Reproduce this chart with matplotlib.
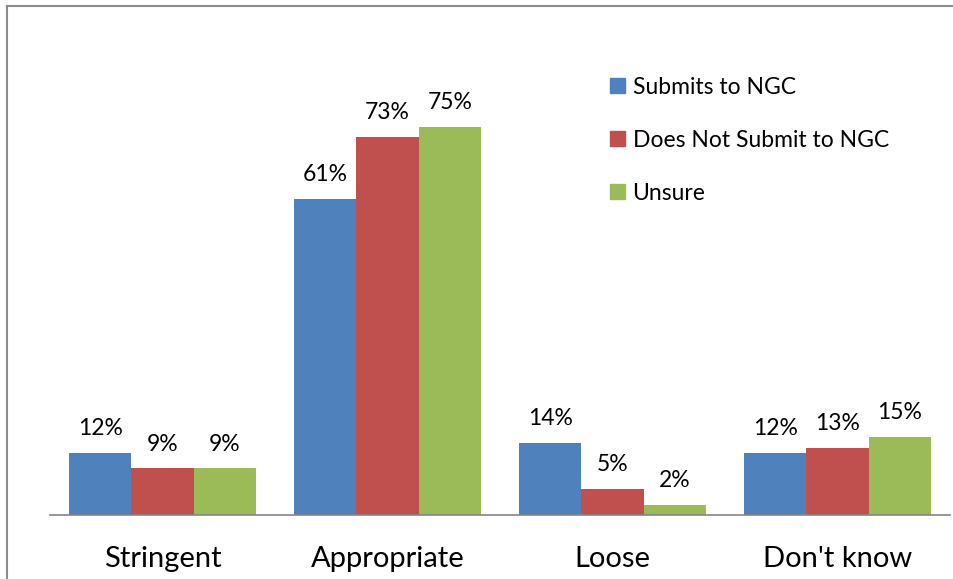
import numpy as np
import matplotlib.pyplot as plt
from matplotlib.lines import Line2D
from matplotlib.patches import Patch

categories = ["Stringent", "Appropriate", "Loose", "Don't know"]
series_names = ["Submits to NGC", "Does Not Submit to NGC", "Unsure"]
submits = [12, 61, 14, 12]
not_submit = [9, 73, 5, 13]
unsure = [9, 75, 2, 15]

colors = ["#4f81bd", "#c0504d", "#9bbb59"]

plt.rcParams['font.family'] = ['Lato', 'DejaVu Sans']

W, H = 954, 579
fig = plt.figure(figsize=(W / 100, H / 100), dpi=100)
ax = fig.add_axes([50 / W, 1 - 515 / H, 900 / W, (515 - 101) / H])

x = np.arange(len(categories))
bw = 62.3 / 225
for i, vals in enumerate([submits, not_submit, unsure]):
    bars = ax.bar(x + (i - 1) * bw, vals, width=bw, color=colors[i], label=series_names[i])
    for b, v in zip(bars, vals):
        ax.annotate(f"{v}%", (b.get_x() + b.get_width() / 2, v),
                    xytext=(0, 10), textcoords="offset points",
                    ha="center", va="bottom", fontsize=16.5)

ax.set_xlim(-0.5, 3.5)
ax.set_ylim(0, 80)
ax.set_xticks(x)
ax.set_xticklabels(categories, fontsize=21)
ax.tick_params(axis='x', length=0, pad=22)
ax.set_yticks([])
for s in ['top', 'right', 'left']:
    ax.spines[s].set_visible(False)
ax.spines['bottom'].set_color('#868686')
ax.spines['bottom'].set_linewidth(1.2)

handles = [Patch(color=c) for c in colors]
fig.legend(handles, series_names, loc='upper left', bbox_to_anchor=(589 / W, 1 - 56 / H),
           frameon=False, fontsize=16.5, handlelength=0.65, handleheight=0.65,
           handletextpad=0.35, labelspacing=1.4)

# outer chart frame
fig.add_artist(Line2D([7 / W, 7 / W], [0, 1 - 6 / H], color='#8c8c8c', lw=1.5))
fig.add_artist(Line2D([7 / W, 1], [1 - 6 / H, 1 - 6 / H], color='#8c8c8c', lw=1.5))

fig.savefig("out.png", dpi=100)
